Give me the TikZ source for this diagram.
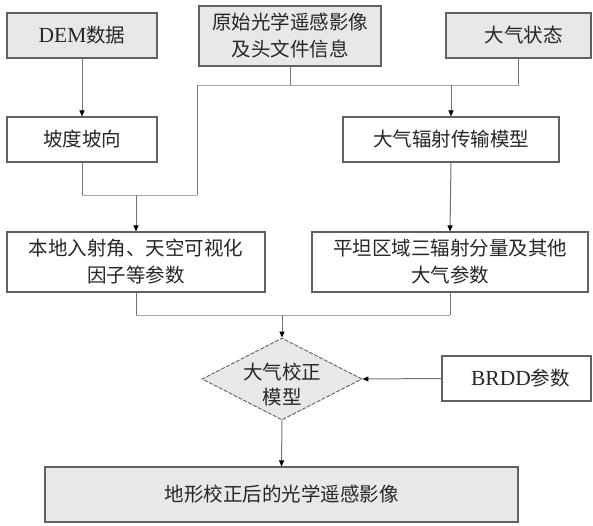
\documentclass[tikz,border=0pt]{standalone}
\usepackage{fontspec}
\setmainfont{Noto Sans CJK SC}
\newfontfamily\lat{Liberation Serif}
\newcommand{\latbig}[1]{{\lat\fontsize{21.5}{27}\selectfont #1}}
\usetikzlibrary{arrows.meta,shapes.geometric}
\tikzset{
  base/.style={draw=black!62, line width=1.1pt, text=black!85, align=center, inner sep=0pt,
    font=\fontsize{19.5}{27}\selectfont},
  graybox/.style={base, rectangle, fill=black!9},
  whitebox/.style={base, rectangle, fill=white},
  decide/.style={base, diamond, fill=black!9, dashed, dash pattern=on 4pt off 1.5pt, line width=0.9pt},
  link/.style={draw=black!55, line width=1pt},
  thin link/.style={draw=black!35, line width=0.8pt},
  arr/.style={link, -{Triangle[length=6pt,width=5pt,fill=black,color=black]}},
}
\begin{document}
\begin{tikzpicture}[x=1pt,y=-1pt]
\useasboundingbox (0,0) rectangle (593,526);
\node[graybox, minimum width=150pt, minimum height=45pt] (dem) at (82,35.5) {\latbig{DEM}数据};
\node[graybox, minimum width=182pt, minimum height=60pt] (yuan) at (290,36) {原始光学遥感影像\\及头文件信息};
\node[graybox, minimum width=145pt, minimum height=45pt] (dq) at (518.5,35.5) {\hspace{10pt}大气状态};
\node[whitebox, minimum width=150pt, minimum height=45pt] (pd) at (82,139.5) {坡度坡向};
\node[whitebox, minimum width=216pt, minimum height=45pt] (fs) at (451,139.5) {大气辐射传输模型};
\node[whitebox, minimum width=258pt, minimum height=60pt] (bd) at (136,262) {本地入射角、天空可视化\\因子等参数};
\node[whitebox, minimum width=276pt, minimum height=60pt] (pt) at (450,262) {平坦区域三辐射分量及其他\\大气参数};
\node[decide, minimum width=160pt, minimum height=82pt, aspect=1.95] (dia) at (282,379) {};
\node[text=black!85, align=center, font=\fontsize{19.5}{25}\selectfont] (diat) at (282,385) {大气校正\\模型};
\node[whitebox, minimum width=149pt, minimum height=45pt] (brdd) at (516.5,378.5) {\hspace{8pt}\latbig{BRDD}参数};
\node[graybox, minimum width=473pt, minimum height=55pt] (out) at (281.5,494.5) {地形校正后的光学遥感影像};

\coordinate (jy) at (yuan.south |- 0,85);
\coordinate (jq) at (dq.south |- 0,85);
\coordinate (jl) at (197,85);
\coordinate (jl2) at (197,195);
\coordinate (jp) at (pd.south |- 0,195);
\coordinate (jb) at (bd.north |- 0,195);
\coordinate (jf) at (fs.north |- 0,85);
\coordinate (kb) at (bd.south |- 0,315);
\coordinate (kp) at (pt.south |- 0,315);
\coordinate (kd) at (dia.north |- 0,315);

\draw[arr] (dem.south) -- (pd.north);
\draw[link] (yuan.south) -- (jy);
\draw[link] (dq.south) -- (jq);
\draw[thin link] (jl) -- (jq);
\draw[link] (jl) -- (jl2);
\draw[arr] (jf) -- (fs.north);
\draw[link] (pd.south) -- (jp);
\draw[thin link] (jp) -- (jl2);
\draw[arr] (jb) -- (bd.north);
\draw[arr] (fs.south) -- (pt.north);
\draw[link] (bd.south) -- (kb);
\draw[link] (pt.south) -- (kp);
\draw[thin link] (kb) -- (kp);
\draw[arr] (kd) -- (dia.north);
\draw[arr] (brdd.west) -- (dia.east);
\draw[arr] (dia.south) -- (out.north);
\end{tikzpicture}
\end{document}
